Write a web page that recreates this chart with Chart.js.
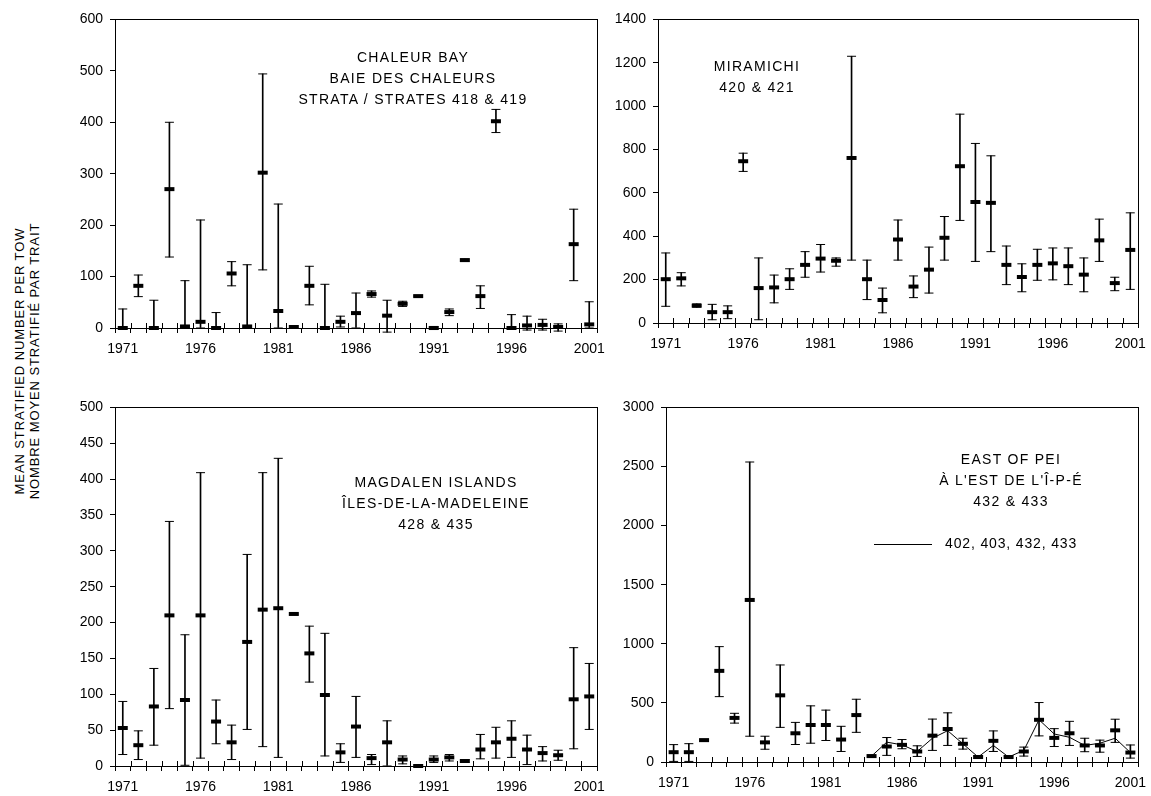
<!DOCTYPE html>
<html>
<head>
<meta charset="utf-8">
<script src="https://cdn.jsdelivr.net/npm/chart.js@4.4.0/dist/chart.umd.min.js"></script>
<style>
  body { margin:0; background:#fff; width:1151px; height:796px; position:relative; overflow:hidden;
         font-family:"Liberation Sans", Arial, sans-serif; color:#000; }
  canvas { position:absolute; }
  .note { position:absolute; font-size:14px; letter-spacing:1.3px; line-height:21px; text-align:center;
          white-space:nowrap; transform:translateX(-50%); }
  .ytitle { position:absolute; left:27px; top:361px; font-size:13px; letter-spacing:0.9px; line-height:15px;
            text-align:center; white-space:nowrap; transform:translate(-50%,-50%) rotate(-90deg); }
  .legline { position:absolute; left:874px; top:544px; width:58px; height:0; border-top:1px solid #000; }
  .legtext { position:absolute; left:945px; top:535px; font-size:14px; letter-spacing:0.85px; white-space:nowrap; }
</style>
</head>
<body>
<canvas id="c1"></canvas>
<canvas id="c2"></canvas>
<canvas id="c3"></canvas>
<canvas id="c4"></canvas>

<div class="ytitle">MEAN STRATIFIED NUMBER PER TOW<br>NOMBRE MOYEN STRATIFIÉ PAR TRAIT</div>
<div class="note" style="left:413px; top:47px;">CHALEUR BAY<br>BAIE DES CHALEURS<br>STRATA / STRATES 418 &amp; 419</div>
<div class="note" style="left:757px; top:56px;">MIRAMICHI<br>420 &amp; 421</div>
<div class="note" style="left:436px; top:472px;">MAGDALEN ISLANDS<br>ÎLES-DE-LA-MADELEINE<br>428 &amp; 435</div>
<div class="note" style="left:1011px; top:449px;">EAST OF PEI<br>À L'EST DE L'Î-P-É<br>432 &amp; 433</div>
<div class="legline"></div>
<div class="legtext">402, 403, 432, 433</div>

<script>
// years on the category axis
var years = [];
for (var y = 1971; y <= 2001; y++) years.push(String(y));

// Chaleur Bay, strata 418 & 419
var chaleurMean = [0,82,0,270,3,12,0,106,3,302,33,2,82,0,12,29,66,24,47,62,0,31,132,62,402,0,5,6,2,163,7];
var chaleurLow  = [0,61,0,138,0,0,0,82,0,113,0,0,45,0,2,0,60,-8,42,61,-3,24,130,38,380,0,-4,-4,-6,92,0];
var chaleurHigh = [37,103,54,400,92,210,30,129,123,494,241,4,120,85,23,68,72,54,52,63,3,37,134,82,425,26,23,17,8,231,51];

// Miramichi, 420 & 421
var miraMean = [202,206,80,50,50,746,161,164,202,268,297,287,761,202,106,385,168,246,393,723,558,554,268,212,268,275,262,223,381,184,337];
var miraLow  = [77,171,73,15,20,699,15,93,155,211,235,262,290,108,47,290,117,138,290,473,284,329,177,144,197,199,177,144,284,149,155];
var miraHigh = [323,232,88,86,79,783,300,221,250,329,362,300,1230,290,161,475,217,350,491,963,828,771,355,273,340,346,346,300,479,211,508];

// Magdalen Islands, 428 & 435
var magMean = [53,29,83,210,92,210,62,33,173,218,220,212,157,99,19,55,11,33,9,0,9,12,7,23,33,38,23,18,15,93,97];
var magLow  = [16,9,29,80,1,11,31,9,51,27,12,211,117,14,5,12,2,0,3,-1,5,7,5,10,11,12,2,7,8,24,51];
var magHigh = [90,49,136,341,183,409,92,57,295,409,429,213,195,185,31,97,16,63,14,1,14,16,9,44,54,63,43,27,22,165,143];

// East of PEI, 432 & 433
var peiMean = [83,83,185,771,373,1371,166,564,243,313,313,190,397,50,131,145,89,223,279,154,42,179,42,89,357,204,243,140,140,268,80];
var peiLow  = [5,5,178,553,329,218,108,293,148,159,182,89,251,42,56,112,47,98,140,109,30,89,35,50,221,131,140,87,83,166,33];
var peiHigh = [147,155,192,976,412,2538,218,821,335,475,439,302,531,58,207,190,137,363,416,201,55,263,50,126,503,282,344,201,185,362,144];
// 402, 403, 432, 433 (1984-2001)
var peiWide = [null,null,null,null,null,null,null,null,null,null,null,null,null,
               50,168,145,89,201,265,154,42,140,42,98,357,237,209,140,159,201,80];

Chart.defaults.font.family = '"Liberation Sans", Arial, sans-serif';
Chart.defaults.font.size = 14;
Chart.defaults.color = '#000';

var YW = 70, PT = 12, XH = 40, PR = 20;

// frame round the plot and tick marks crossing the x axis
var framePlugin = {
  id: 'frame',
  afterDraw: function(chart) {
    var a = chart.chartArea, ctx = chart.ctx, xs = chart.scales.x;
    ctx.save();
    ctx.strokeStyle = '#000';
    ctx.lineWidth = 1;
    ctx.strokeRect(Math.round(a.left) + 0.5, Math.round(a.top) + 0.5,
                   Math.round(a.right - a.left), Math.round(a.bottom - a.top));
    ctx.beginPath();
    for (var i = 0; i <= years.length; i++) {
      var px = Math.round(xs.getPixelForValue(i - 0.5)) + 0.5;
      ctx.moveTo(px, a.bottom);
      ctx.lineTo(px, a.bottom - 5);
    }
    ctx.stroke();
    ctx.restore();
  }
};

function panel(id, area, yMax, yStep, mean, low, high, wide) {
  var cv = document.getElementById(id);
  var w = area.r - area.l + YW + PR, h = area.b - area.t + PT + XH;
  cv.width = w; cv.height = h;
  cv.style.left = (area.l - YW) + 'px';
  cv.style.top = (area.t - PT) + 'px';
  cv.style.width = w + 'px'; cv.style.height = h + 'px';

  var capStyle = { type: 'line', showLine: false, pointStyle: 'line', pointRadius: 4.5,
                   pointBorderWidth: 1, pointBorderColor: '#000', pointBackgroundColor: '#000',
                   borderColor: '#000', order: 2, clip: false };
  var datasets = [
    { type: 'bar', data: low.map(function(v, i) { return [v, high[i]]; }),
      backgroundColor: '#000', borderWidth: 0, barThickness: 1, order: 3, clip: false },
    Object.assign({ data: low }, capStyle),
    Object.assign({ data: high }, capStyle),
    { type: 'line', data: mean, showLine: false, pointStyle: 'line', pointRadius: 5,
      pointBorderWidth: 4, pointBorderColor: '#000', borderColor: '#000', order: 0, clip: false }
  ];
  if (wide) {
    datasets.push({ type: 'line', data: wide, borderColor: '#000', borderWidth: 1,
                    pointRadius: 0, tension: 0, spanGaps: false, order: 1 });
  }

  new Chart(cv, {
    type: 'bar',
    data: { labels: years, datasets: datasets },
    plugins: [framePlugin],
    options: {
      responsive: false,
      animation: false,
      layout: { padding: { top: PT, right: PR, left: 0, bottom: 0 } },
      plugins: { legend: { display: false }, tooltip: { enabled: false } },
      scales: {
        x: {
          type: 'category',
          offset: true,
          border: { display: false },
          grid: { display: true, offset: true, drawOnChartArea: false, drawTicks: true,
                  tickLength: 5, color: '#000', lineWidth: 1 },
          ticks: { autoSkip: false, maxRotation: 0, minRotation: 0, padding: 8, font: { size: 14 },
                   callback: function(v, i) { return i % 5 === 0 ? years[i] : ''; } },
          afterFit: function(s) { s.height = XH; }
        },
        y: {
          min: 0, max: yMax,
          border: { display: false },
          grid: { drawOnChartArea: false, drawTicks: true, tickLength: 5, color: '#000', lineWidth: 1 },
          ticks: { stepSize: yStep, padding: 7, font: { size: 14 },
                   callback: function(v) { return String(v); } },
          afterFit: function(s) { s.width = YW; }
        }
      }
    }
  });
}

panel('c1', { l: 115, t: 16, r: 597, b: 328 }, 600, 100, chaleurMean, chaleurLow, chaleurHigh);
panel('c2', { l: 658, t: 16, r: 1138, b: 323 }, 1400, 200, miraMean, miraLow, miraHigh);
panel('c3', { l: 115, t: 404, r: 597, b: 766 }, 500, 50, magMean, magLow, magHigh);
panel('c4', { l: 666, t: 404, r: 1138, b: 762 }, 3000, 500, peiMean, peiLow, peiHigh, peiWide);
</script>
</body>
</html>
